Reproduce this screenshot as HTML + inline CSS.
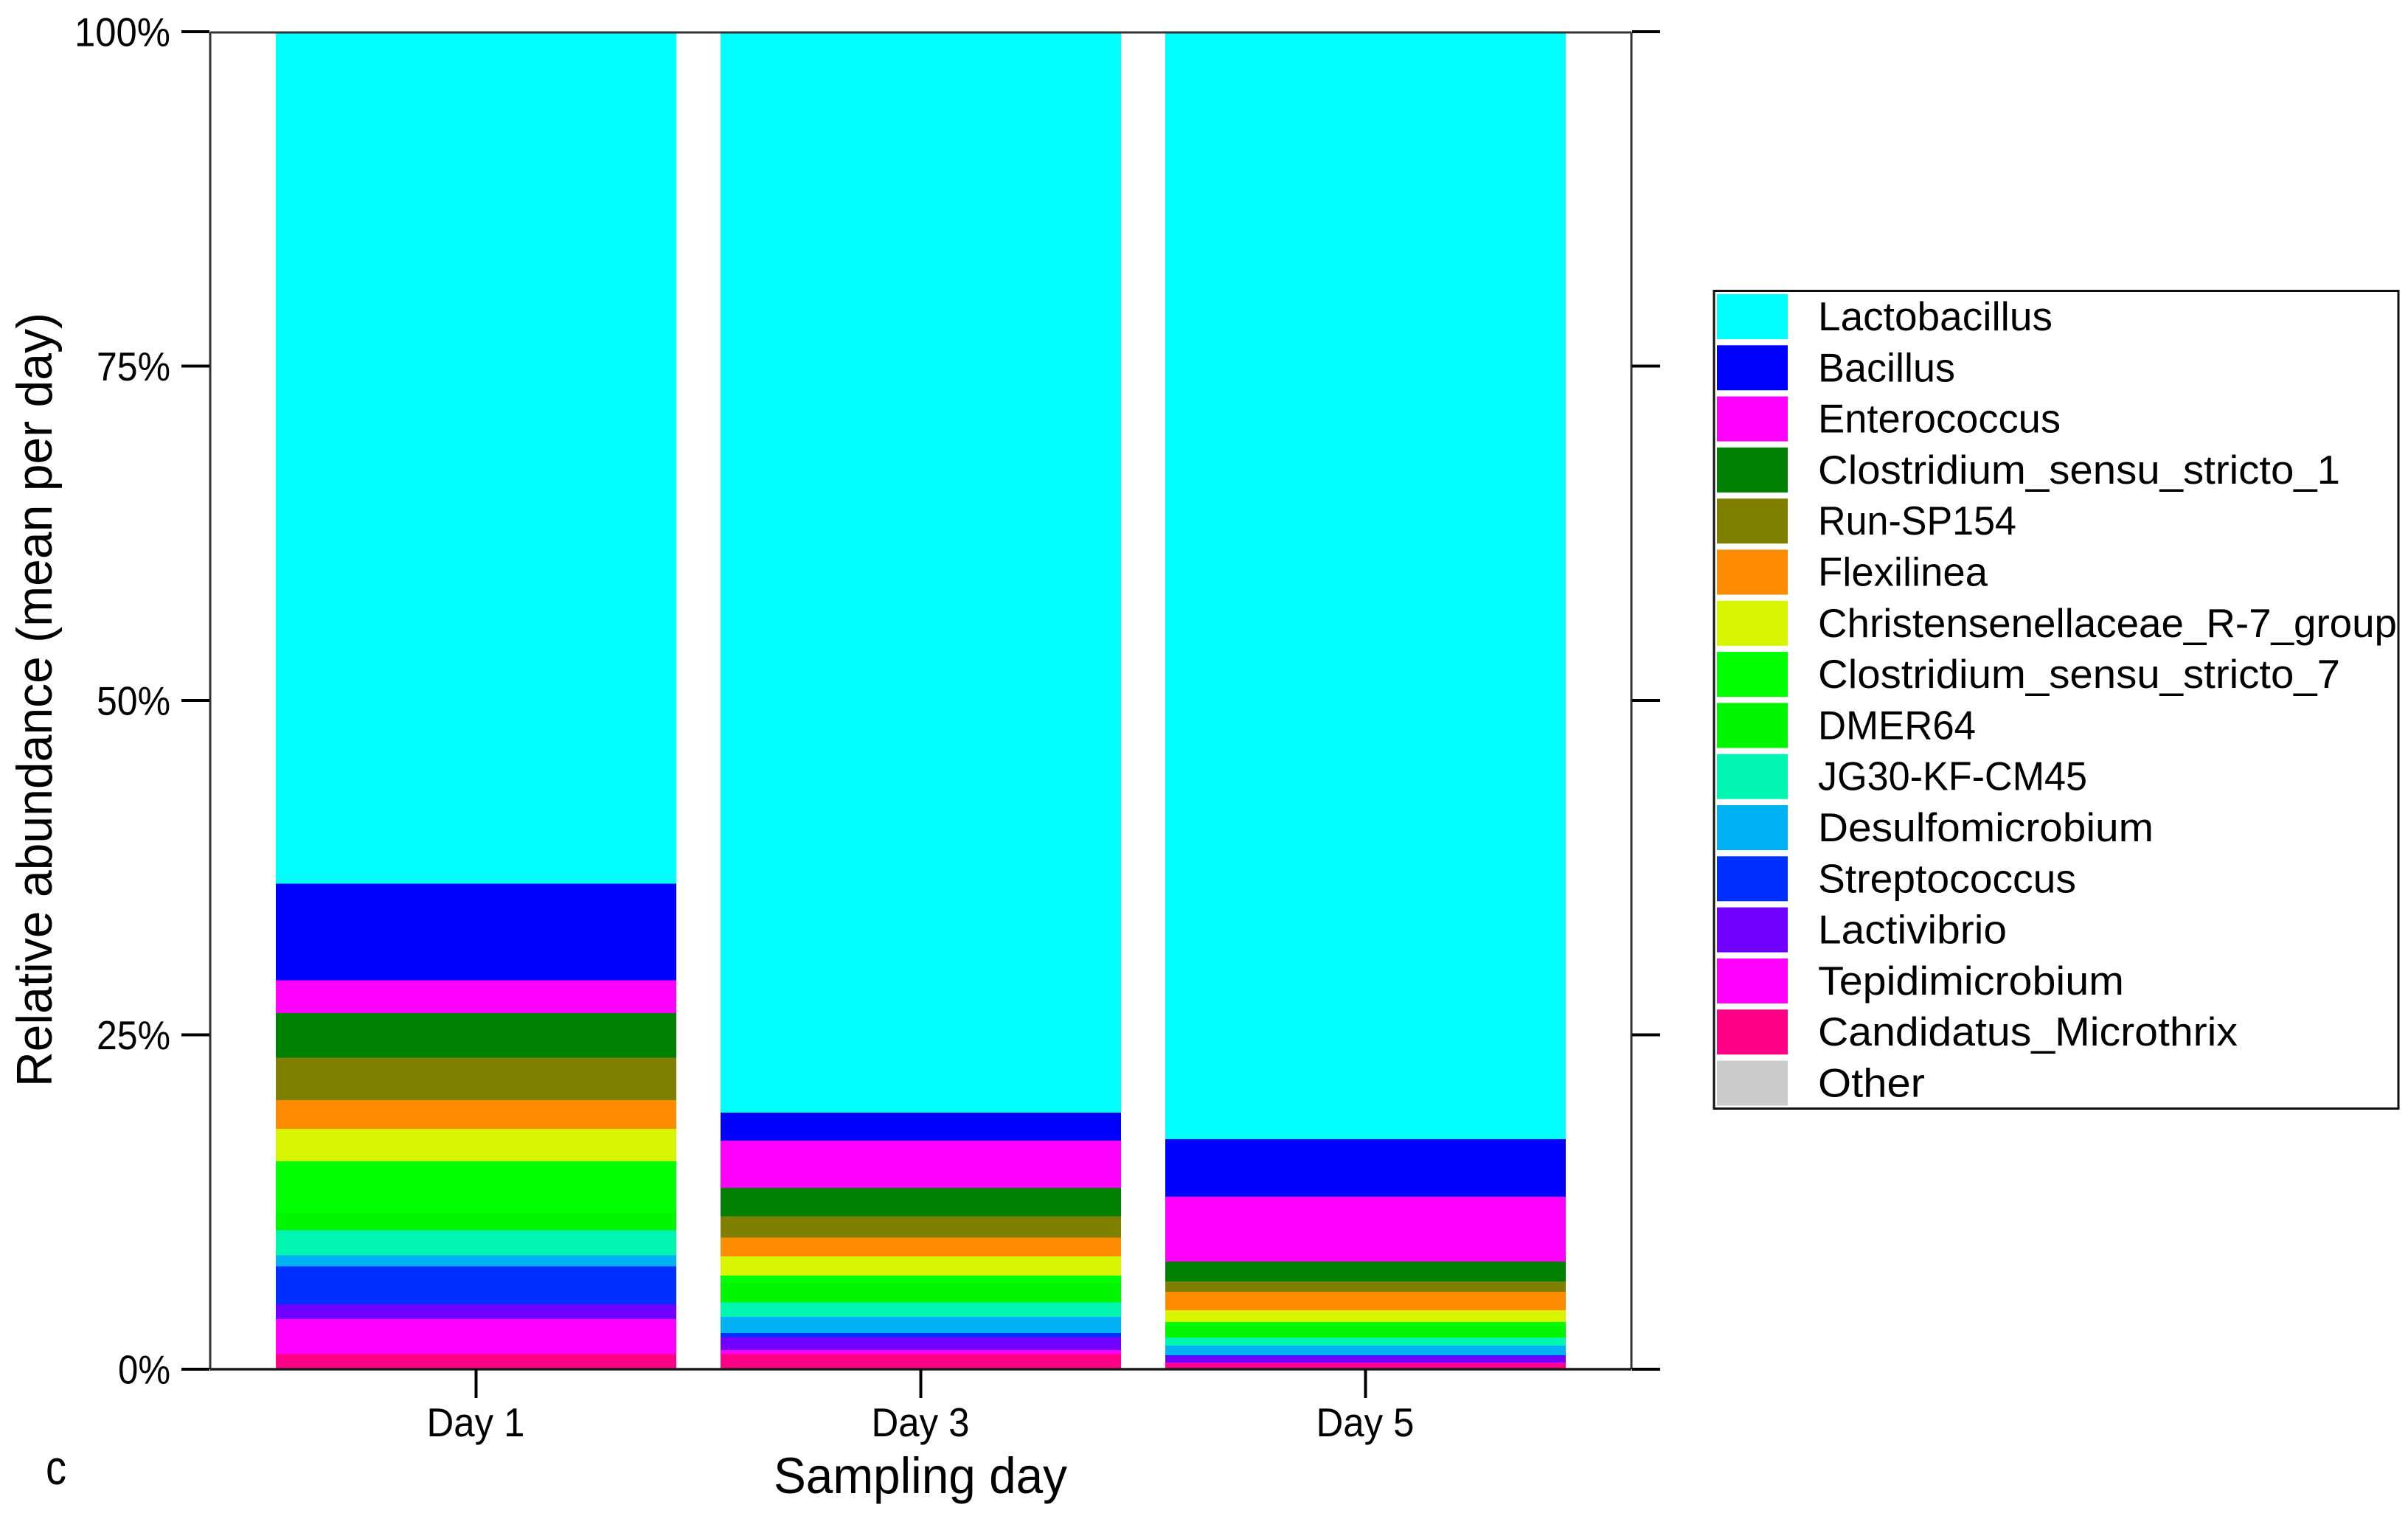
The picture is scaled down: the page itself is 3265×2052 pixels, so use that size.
<!DOCTYPE html>
<html lang="en">
<head>
<meta charset="utf-8">
<title>Relative abundance by sampling day</title>
<style>
html,body{margin:0;padding:0;background:#fff;width:3265px;height:2052px;overflow:hidden}
svg{display:block}
text{font-family:"Liberation Sans",sans-serif;fill:#000}
</style>
</head>
<body>
<svg id="chart" xmlns="http://www.w3.org/2000/svg" width="3265" height="2052" viewBox="0 0 3265 2052">
  <rect x="0" y="0" width="3265" height="2052" fill="#ffffff"/>
  <g id="bars"></g>
  <g id="axes"></g>
  <text transform="translate(70,1474) rotate(-90)" font-size="68" textLength="1050" lengthAdjust="spacingAndGlyphs">Relative abundance (mean per day)</text>
  <text x="1049" y="2025" font-size="69" textLength="398" lengthAdjust="spacingAndGlyphs">Sampling day</text>
  <text x="62" y="2013" font-size="66" textLength="28" lengthAdjust="spacingAndGlyphs">c</text>
  <g id="legend"></g>
</svg>
<script>
const categories = ['Day 1', 'Day 3', 'Day 5'];
const taxa = ['Lactobacillus', 'Bacillus', 'Enterococcus', 'Clostridium_sensu_stricto_1', 'Run-SP154', 'Flexilinea', 'Christensenellaceae_R-7_group', 'Clostridium_sensu_stricto_7', 'DMER64', 'JG30-KF-CM45', 'Desulfomicrobium', 'Streptococcus', 'Lactivibrio', 'Tepidimicrobium', 'Candidatus_Microthrix', 'Other'];

const lactobacillus = [63.73, 80.85, 82.84];
const bacillus = [7.22, 2.08, 4.30];
const enterococcus = [2.46, 3.53, 4.86];
const clostridium1 = [3.35, 2.13, 1.49];
const runSP154 = [3.15, 1.60, 0.76];
const flexilinea = [2.17, 1.42, 1.38];
const christensenellaceae = [2.41, 1.43, 0.90];
const clostridium7 = [3.90, 0.55, 0.28];
const dmer64 = [1.28, 1.47, 0.88];
const jg30 = [1.88, 1.08, 0.59];
const desulfomicrobium = [0.81, 1.21, 0.73];
const streptococcus = [2.86, 0.30, 0.05];
const lactivibrio = [1.09, 0.97, 0.50];
const tepidimicrobium = [2.63, 0.30, 0.04];
const microthrix = [1.07, 1.07, 0.40];
const other = [0, 0, 0];

const seriesValues = [lactobacillus, bacillus, enterococcus, clostridium1, runSP154, flexilinea, christensenellaceae, clostridium7, dmer64, jg30, desulfomicrobium, streptococcus, lactivibrio, tepidimicrobium, microthrix, other];
const taxaColors = ['#00ffff', '#0000ff', '#ff00ff', '#008000', '#808000', '#ff8c00', '#d7f500', '#00ff00', '#00f500', '#00f5b0', '#00b0f5', '#0030ff', '#7000ff', '#ff00ff', '#ff0087', '#cccccc'];
const yTicks = [0, 25, 50, 75, 100];
const yTickLabels = ['0%', '25%', '50%', '75%', '100%'];

const legendTextWidths = [318, 186, 329, 708, 269, 230, 785, 708, 214, 365, 455, 350, 256, 415, 569, 145];
const yTickLabelWidths = [71, 100, 100, 100, 130];

const NS = 'http://www.w3.org/2000/svg';
const plot = { left: 285, right: 2212, top: 44, bottom: 1856, pad: 59 };
const step = (plot.right - plot.left - 2 * plot.pad) / categories.length;
const barWidth = step * 0.9;

function yScale(v) { return plot.bottom - (v / 100) * (plot.bottom - plot.top); }
function xCenter(i) { return plot.left + plot.pad + step * (i + 0.5); }
function tickY(v) { return 1857 - (v / 100) * 1814; }

function make(tag, parent) {
  const el = document.createElementNS(NS, tag);
  parent.appendChild(el);
  return el;
}
function setAll(el, attrs) {
  Object.keys(attrs).forEach(function (k) { el.setAttribute(k, attrs[k]); });
}
function slug(s) { return s.toLowerCase().replace(/[^a-z0-9]+/g, '-'); }

const barsG = document.getElementById('bars');
categories.forEach(function (cat, c) {
  let cumulative = 0;
  for (let s = seriesValues.length - 1; s >= 0; s--) {
    const v = seriesValues[s][c];
    const next = cumulative + v;
    const seg = make('rect', barsG);
    
    
    setAll(seg, {
      x: xCenter(c) - barWidth / 2,
      y: yScale(next),
      width: barWidth,
      height: Math.max(0, yScale(cumulative) - yScale(next)),
      fill: taxaColors[s],
      'shape-rendering': 'crispEdges'
    });
    cumulative = next;
  }
});

const axesG = document.getElementById('axes');
function axisLine(name, x1, y1, x2, y2, w, color) {
  const l = make('line', axesG);
  
  
  setAll(l, { x1: x1, y1: y1, x2: x2, y2: y2, stroke: color, 'stroke-width': w });
}
axisLine('plot-border-top', plot.left, 44, plot.right, 44, 3, '#333333');
axisLine('plot-border-left', plot.left, 44, plot.left, 1857, 3, '#333333');
axisLine('plot-border-right', plot.right, 44, plot.right, 1857, 3, '#333333');
axisLine('x-axis-line', plot.left, 1857, plot.right, 1857, 3.5, '#1a1a1a');

yTicks.forEach(function (t, i) {
  const y = tickY(t);
  axisLine('y-tick-left-' + t, 246, y, 284, y, 4, '#000000');
  axisLine('y-tick-right-' + t, 2213, y, 2251, y, 4, '#000000');
  const lab = make('text', axesG);
  
  
  setAll(lab, {
    x: 231 - yTickLabelWidths[i],
    y: y + 19.5,
    'font-size': 54.5,
    textLength: yTickLabelWidths[i],
    lengthAdjust: 'spacingAndGlyphs'
  });
  lab.textContent = yTickLabels[i];
});

categories.forEach(function (cat, c) {
  const x = xCenter(c);
  axisLine('x-tick-' + slug(cat), x, 1857, x, 1896, 4, '#000000');
  const lab = make('text', axesG);
  
  
  setAll(lab, {
    x: x - 67,
    y: 1948,
    'font-size': 54.5,
    textLength: 133,
    lengthAdjust: 'spacingAndGlyphs'
  });
  lab.textContent = cat;
});

const legendG = document.getElementById('legend');
const legendBox = make('rect', legendG);


setAll(legendBox, { x: 2324, y: 394.5, width: 928, height: 1109, fill: '#ffffff', stroke: '#111111', 'stroke-width': 3 });

taxa.forEach(function (name, i) {
  const top = 399 + i * 69.3;
  const swatch = make('rect', legendG);
  
  
  setAll(swatch, { x: 2328, y: top, width: 96, height: 61, fill: taxaColors[i] });
  const label = make('text', legendG);
  
  
  setAll(label, {
    x: 2465,
    y: top + 49,
    'font-size': 54.5,
    textLength: legendTextWidths[i],
    lengthAdjust: 'spacingAndGlyphs'
  });
  label.textContent = name;
});
</script>
</body>
</html>
